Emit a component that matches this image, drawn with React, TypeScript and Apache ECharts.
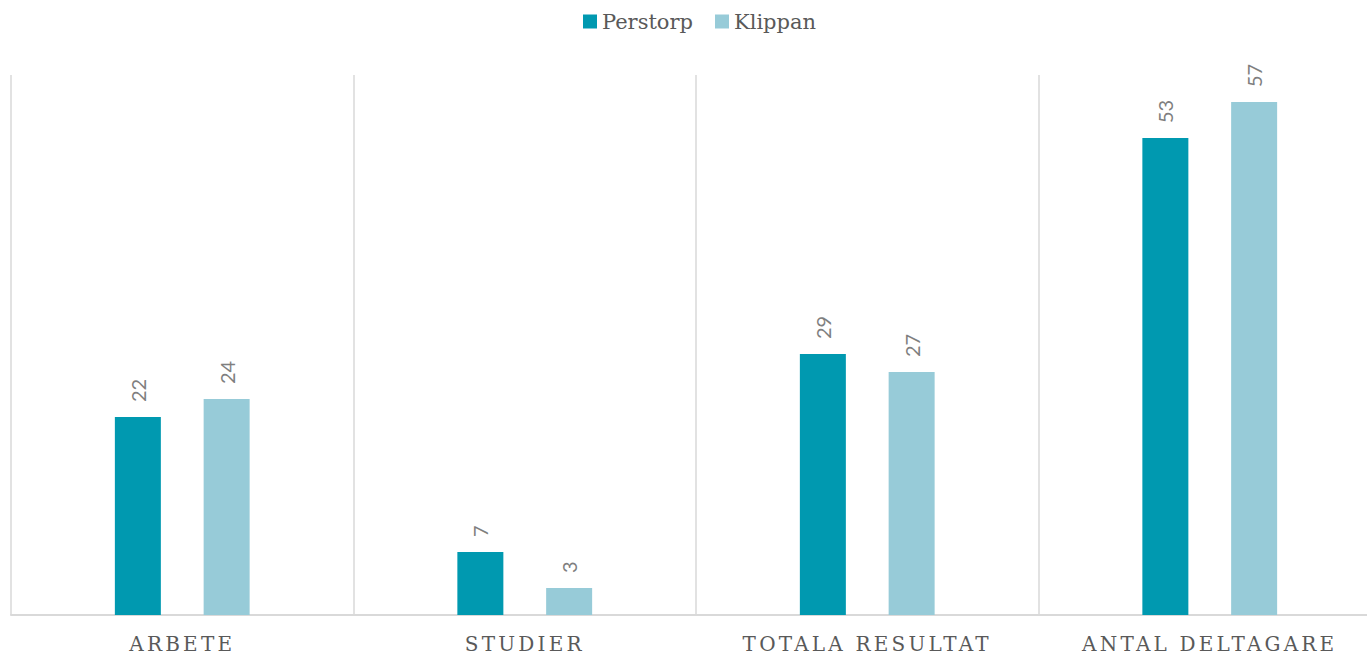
import React, { useEffect, useRef } from "react";
import * as echarts from "echarts";

const categories = ["ARBETE", "STUDIER", "TOTALA RESULTAT", "ANTAL DELTAGARE"];
const perstorp = [22, 7, 29, 53];
const klippan = [24, 3, 27, 57];
const seriesNames = ["Perstorp", "Klippan"];

export default function App() {
  const ref = useRef<HTMLDivElement>(null);
  useEffect(() => {
    document.body.style.margin = "0";
    const chart = echarts.init(ref.current!, null, { renderer: "svg" });
    const label = {
      show: true,
      position: "top",
      rotate: 90,
      align: "left",
      verticalAlign: "middle",
      distance: 15,
      color: "#7f7f7f",
      fontFamily: "Lato",
      fontSize: 20,
    };
    chart.setOption({
      animation: false,
      legend: {
        data: seriesNames,
        left: 578,
        top: 6,
        icon: "rect",
        itemWidth: 14,
        itemHeight: 14,
        itemGap: 22,
        textStyle: { color: "#595959", fontFamily: "DejaVu Serif", fontSize: 21 },
      },
      grid: {
        left: 11,
        top: 75,
        width: 1370,
        height: 540,
        containLabel: false,
        outerBoundsMode: "none",
      },
      xAxis: {
        type: "category",
        data: categories,
        axisLine: { show: true, lineStyle: { color: "#d9d9d9", width: 2 } },
        axisTick: { show: false },
        splitLine: { show: true, lineStyle: { color: "#d9d9d9", width: 1.5 } },
        axisLabel: {
          interval: 0,
          margin: 19,
          color: "#595959",
          fontSize: 20,
          fontFamily: "'DejaVu Serif', 'Liberation Serif'",
        },
      },
      yAxis: { type: "value", min: 0, max: 60, show: false, splitLine: { show: false } },
      series: [
        {
          name: seriesNames[0],
          type: "bar",
          data: perstorp,
          barWidth: 46,
          barGap: "93%",
          itemStyle: { color: "#0099B0" },
          label,
        },
        {
          name: seriesNames[1],
          type: "bar",
          data: klippan,
          barWidth: 46,
          barGap: "93%",
          itemStyle: { color: "#97CBD8" },
          label,
        },
      ],
    });
    return () => chart.dispose();
  }, []);
  return (
    <>
      <style>{`text[style*="Liberation Serif"]{letter-spacing:3.2px;}`}</style>
      <div ref={ref} style={{ width: 1367, height: 657, overflow: "hidden" }} />
    </>
  );
}
